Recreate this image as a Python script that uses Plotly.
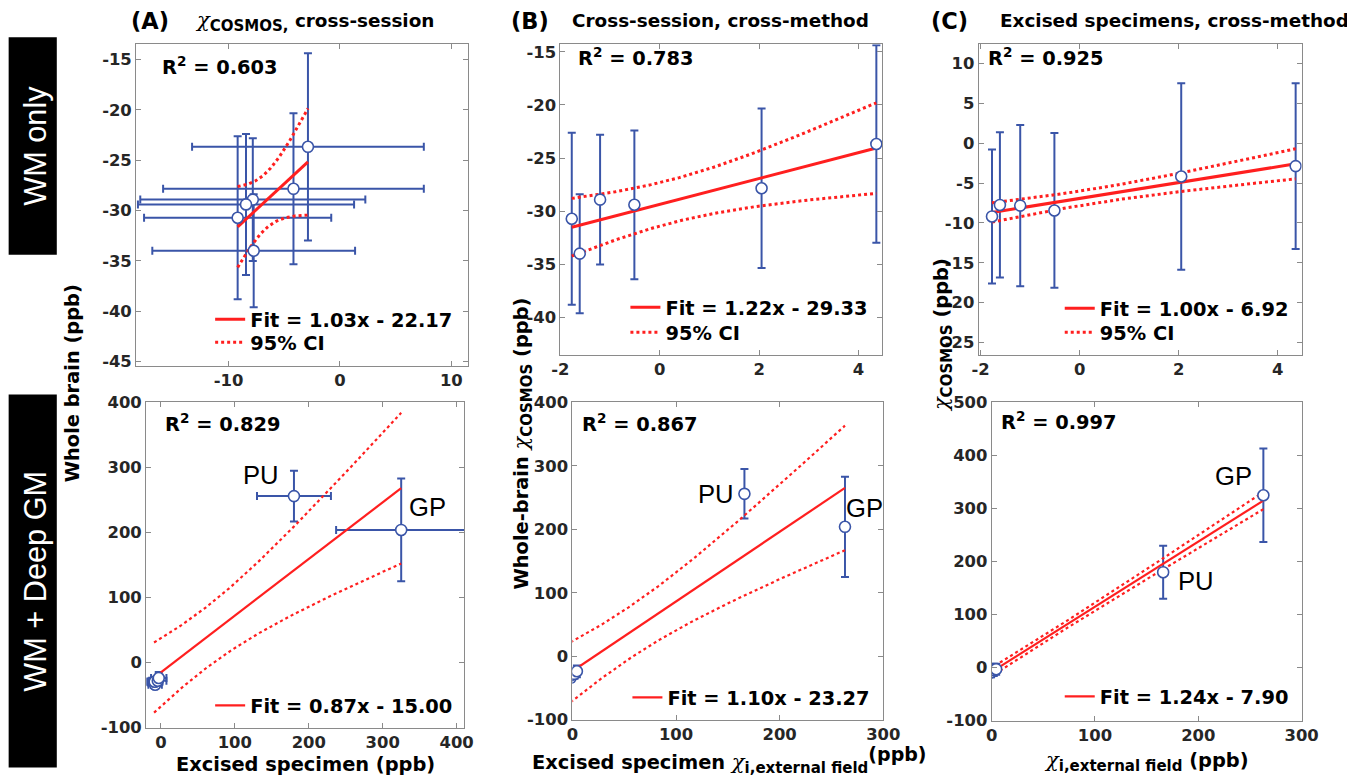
import numpy as np
import plotly.graph_objects as go

# ---------------- data ----------------
# six white-matter regions
ext_wm = [-1.77, -1.61, -1.20, -0.51, 2.05, 4.36]          # chi_i,external field (ppb)
excised_wm = [-9.18, -7.74, -7.82, -8.43, -4.17, -2.87]     # excised specimen chi_COSMOS (ppb)
excised_wm_err = [8.4, 9.1, 10.1, 9.7, 11.7, 10.4]
whole_wm = [-30.72, -34.00, -28.92, -29.40, -27.85, -23.68]  # whole brain chi_COSMOS (ppb)
whole_wm_err = [8.1, 5.6, 6.1, 7.0, 7.5, 9.3]

# deep grey-matter regions
gm_labels = ["PU", "GP"]
ext_gm = [166, 263]
excised_gm = [180, 325]
excised_gm_err = [50, 88]
whole_gm = [256, 204]
whole_gm_err = [39, 79]

fit_labels = ["Fit = 1.03x - 22.17", "Fit = 1.22x - 29.33", "Fit = 1.00x - 6.92",
              "Fit = 0.87x - 15.00", "Fit = 1.10x - 23.27", "Fit = 1.24x - 7.90"]
r2_labels = ["0.603", "0.783", "0.925", "0.829", "0.867", "0.997"]
ci_label = "95% CI"

# axis ticks
xt_A1 = [-10, 0, 10]
yt_A1 = [-45, -40, -35, -30, -25, -20, -15]
xt_B1 = [-2, 0, 2, 4]
yt_B1 = [-40, -35, -30, -25, -20, -15]
xt_C1 = [-2, 0, 2, 4]
yt_C1 = [-25, -20, -15, -10, -5, 0, 5, 10]
xt_A2 = [0, 100, 200, 300, 400]
yt_A2 = [-100, 0, 100, 200, 300, 400]
xt_B2 = [0, 100, 200, 300]
yt_B2 = [-100, 0, 100, 200, 300, 400]
xt_C2 = [0, 100, 200, 300]
yt_C2 = [-100, 0, 100, 200, 300, 400, 500]

T95 = {4: 2.7764, 6: 2.4469}   # Student t, 97.5 % quantile

# ---------------- layout helpers ----------------
# target positions are given in pixels of the final picture; the page has the
# default 8 px body margin and the picture is photographed slightly reduced.
S, OX, OY, MARG = 0.978, 10.5, 9.8, 8
W, H = 1368, 781
def PX(t):
    return ((t - OX) / S - MARG) / W
def PY(t):
    return 1 - ((t - OY) / S - MARG) / H
def FS(s):
    return round(s / S, 1)

BLUE = "#3a55a8"
RED = "#ff1f1f"
AXC = "#8a8a8a"
TXT = "#262626"
BOLD = "DejaVu Sans"

panels = [
    dict(box=(137, 468, 45, 367), xr=[-18.3, 11.5], yr=[-45.4, -13.5], xt=xt_A1, yt=yt_A1,
         x=excised_wm, xe=excised_wm_err, y=whole_wm, ye=whole_wm_err, gm=None,
         leg=(250, 319, 342), r2=(161, 67), lw=3),
    dict(box=(560, 881, 45, 356), xr=[-2.0, 4.48], yr=[-43.5, -14.3], xt=xt_B1, yt=yt_B1,
         x=ext_wm, xe=None, y=whole_wm, ye=whole_wm_err, gm=None,
         leg=(664, 307, 332), r2=(576, 58), lw=3),
    dict(box=(977, 1299, 45, 356), xr=[-2.04, 4.48], yr=[-26.5, 12.4], xt=xt_C1, yt=yt_C1,
         x=ext_wm, xe=None, y=excised_wm, ye=excised_wm_err, gm=None,
         leg=(1097, 308, 332), r2=(984, 58), lw=3),
    dict(box=(147, 464, 404, 730), xr=[-20, 410], yr=[-100, 400], xt=xt_A2, yt=yt_A2,
         x=excised_wm + excised_gm, xe=excised_wm_err + excised_gm_err,
         y=whole_wm + whole_gm, ye=whole_wm_err + whole_gm_err,
         gm=[(-32, 21), (26, 22)], leg=(250, 706, None), r2=(164, 425), lw=2.2),
    dict(box=(572, 882, 404, 722), xr=[0, 300], yr=[-100, 400], xt=xt_B2, yt=yt_B2,
         x=ext_wm + ext_gm, xe=None, y=whole_wm + whole_gm, ye=whole_wm_err + whole_gm_err,
         gm=[(-28, 0), (19, 18)], leg=(666, 698, None), r2=(580, 425), lw=2.2),
    dict(box=(990, 1299, 404, 723), xr=[0, 300], yr=[-100, 500], xt=xt_C2, yt=yt_C2,
         x=ext_wm + ext_gm, xe=None, y=excised_wm + excised_gm, ye=excised_wm_err + excised_gm_err,
         gm=[(32, -9), (-29, 19)], leg=(1097, 697, None), r2=(997, 423), lw=2.2),
]

LEGFONT = dict(family=BOLD, size=FS(19), color="black", weight="bold")

fig = go.Figure()
annotations = []
layout_axes = {}

def legend_box(text_x, row_y):
    # plotly puts the legend text 40 px right of the legend's left edge and the
    # first row centre about 18 px below its top edge
    return dict(visible=True, x=PX(text_x - 40 * S), y=PY(row_y - 18 * S),
                xanchor="left", yanchor="top",
                bgcolor="rgba(0,0,0,0)", borderwidth=0, itemwidth=30, font=LEGFONT)

for i, p in enumerate(panels):
    k = "" if i == 0 else str(i + 1)
    xa, ya = "x" + k, "y" + k
    leg_fit = "legend" + k
    top_row = i < 3
    leg_ci = ("legend" + str(i + 7)) if top_row else leg_fit
    x = np.array(p["x"], dtype=float)
    y = np.array(p["y"], dtype=float)
    n = len(x)
    # least squares fit and 95% confidence band of the mean response
    slope, icpt = np.polyfit(x, y, 1)
    resid = y - (slope * x + icpt)
    s = np.sqrt(np.sum(resid ** 2) / (n - 2))
    xbar = x.mean()
    sxx = np.sum((x - xbar) ** 2)
    xx = np.linspace(x.min(), x.max(), 120)
    yy = slope * xx + icpt
    half = T95[n - 2] * s * np.sqrt(1.0 / n + (xx - xbar) ** 2 / sxx)

    ex = dict(type="data", array=p["xe"], color=BLUE, thickness=2, width=4) if p["xe"] else None
    ey = dict(type="data", array=p["ye"], color=BLUE, thickness=2, width=4)
    # error bars (beneath the fit)
    fig.add_trace(go.Scatter(x=x, y=y, mode="markers", error_x=ex, error_y=ey,
                             marker=dict(size=1, opacity=0), showlegend=False,
                             hoverinfo="skip", xaxis=xa, yaxis=ya, legend=leg_fit))
    fig.add_trace(go.Scatter(x=xx, y=yy, mode="lines", name=fit_labels[i],
                             line=dict(color=RED, width=p["lw"]), legend=leg_fit,
                             showlegend=True, xaxis=xa, yaxis=ya))
    fig.add_trace(go.Scatter(x=xx, y=yy + half, mode="lines", name=ci_label,
                             line=dict(color=RED, width=p["lw"], dash="dot"), legend=leg_ci,
                             showlegend=top_row, xaxis=xa, yaxis=ya))
    fig.add_trace(go.Scatter(x=xx, y=yy - half, mode="lines", name=ci_label,
                             line=dict(color=RED, width=p["lw"], dash="dot"), legend=leg_ci,
                             showlegend=False, xaxis=xa, yaxis=ya))
    # markers on top
    fig.add_trace(go.Scatter(x=x, y=y, mode="markers",
                             marker=dict(symbol="circle", size=11, color="white",
                                         line=dict(color=BLUE, width=1.6)),
                             showlegend=False, xaxis=xa, yaxis=ya, legend=leg_fit))

    l, r, t, b = p["box"]
    common = dict(showline=True, mirror="ticks", linecolor=AXC, linewidth=1,
                  ticks="inside", ticklen=5, tickcolor=AXC, showgrid=False, zeroline=False,
                  tickfont=dict(family=BOLD, size=FS(16), color=TXT, weight="bold"))
    layout_axes["xaxis" + k] = dict(common, domain=[PX(l), PX(r)], range=p["xr"], anchor=ya,
                                    tickvals=p["xt"], ticktext=[str(v) for v in p["xt"]])
    layout_axes["yaxis" + k] = dict(common, domain=[PY(b), PY(t)], range=p["yr"], anchor=xa,
                                    tickvals=p["yt"], ticktext=[str(v) for v in p["yt"]])
    lx, ly1, ly2 = p["leg"]
    layout_axes[leg_fit] = legend_box(lx, ly1)
    if ly2 is not None:
        layout_axes[leg_ci] = legend_box(lx, ly2)
    rx, ry = p["r2"]
    annotations.append(dict(text="R<sup>2</sup> = " + r2_labels[i], xref="paper", yref="paper",
                            x=PX(rx), y=PY(ry), xanchor="left", yanchor="middle", showarrow=False,
                            font=dict(family=BOLD, size=FS(19), color="black", weight="bold")))
    if p["gm"]:
        for j, lab in enumerate(gm_labels):
            dx, dy = p["gm"][j]
            annotations.append(dict(text=lab, xref=xa, yref=ya, x=x[6 + j], y=y[6 + j],
                                    xshift=dx / S, yshift=dy / S, showarrow=False,
                                    font=dict(family="Liberation Sans", size=FS(25), color="black")))

CHI = "<span style='font-family:DejaVu Serif;font-weight:normal;font-size:21px'><i>χ</i></span>"
def SUB(t):
    return "<sub><span style='font-size:15px'>" + t + "</span></sub>"

def ann(text, x, y, size=19, angle=0, color="black", family=BOLD, weight="bold", xanchor="center"):
    annotations.append(dict(text=text, xref="paper", yref="paper", x=PX(x), y=PY(y),
                            xanchor=xanchor, yanchor="middle", showarrow=False, textangle=angle,
                            font=dict(family=family, size=FS(size), color=color, weight=weight)))

# panel titles
ann("(A)", 151, 22, size=22)
ann(CHI + SUB("COSMOS,") + " cross-session", 315, 22, size=18)
ann("(B)", 530, 22, size=22)
ann("Cross-session, cross-method", 720, 21, size=18)
ann("(C)", 948, 22, size=22)
ann("Excised specimens, cross-method", 1172, 21, size=18)

# axis titles
ann("Whole brain (ppb)", 74, 385, angle=-90)
ann("Whole-brain " + CHI + SUB("COSMOS") + " (ppb)", 522, 445, angle=-90)
ann(CHI + SUB("COSMOS") + " (ppb)", 941, 337, angle=-90)
ann("Excised specimen (ppb)", 306, 767)
ann("Excised specimen " + CHI + SUB("i,external field")
    + "<sup><span style='font-size:19px'>(ppb)</span></sup>", 729, 762)
ann(CHI + SUB("i,external field") + " (ppb)", 1144, 764)

# row labels
shapes = [
    dict(type="rect", xref="paper", yref="paper", x0=PX(10), x1=PX(58), y0=PY(256), y1=PY(38),
         fillcolor="black", line=dict(width=0), layer="below"),
    dict(type="rect", xref="paper", yref="paper", x0=PX(10), x1=PX(58), y0=PY(770), y1=PY(396),
         fillcolor="black", line=dict(width=0), layer="below"),
]
ann("WM only", 36, 147, size=30, angle=-90, color="white", family="Liberation Sans", weight="normal")
ann("WM + Deep GM", 36, 583, size=30, angle=-90, color="white", family="Liberation Sans", weight="normal")

fig.update_layout(width=W, height=H, margin=dict(l=0, r=0, t=0, b=0),
                  paper_bgcolor="white", plot_bgcolor="white", showlegend=True,
                  annotations=annotations, shapes=shapes, **layout_axes)

fig.write_html("out.html")
